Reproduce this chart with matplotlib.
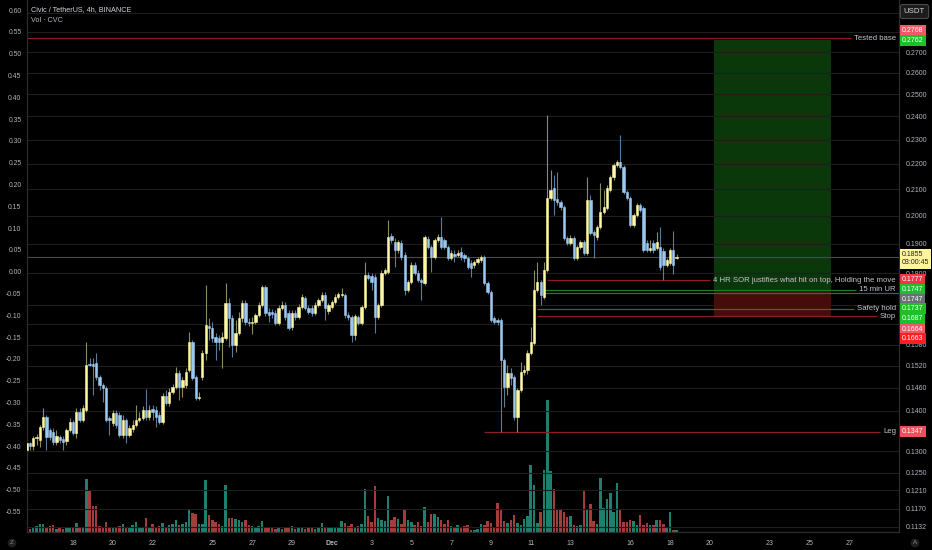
import matplotlib
matplotlib.use('Agg')
import matplotlib.pyplot as plt
import matplotlib.dates as mdates
import matplotlib.transforms as mtrans
from matplotlib.ticker import FixedLocator, FixedFormatter, NullLocator
import pandas as pd
import numpy as np

# ---------------- data ----------------
start_time = '2021-11-15 16:00'
opens = [
 .1302,.1320,.1312,.1332,.1327,.1359,.1384,.1351,.1346,.1322,
 .1334,.1329,.1324,.1351,.1371,.1344,.1397,.1376,.1402,.1525,
 .1524,.1527,.1489,.1467,.1459,.1381,.1369,.1394,.1389,.1339,
 .1376,.1339,.1354,.1364,.1376,.1381,.1402,.1384,.1404,.1402,
 .1389,.1371,.1438,.1419,.1449,.1462,.1500,.1462,.1467,.1508,
 .1587,.1489,.1432,.1489,.1556,.1635,.1629,.1602,.1599,.1587,
 .1599,.1705,.1659,.1579,.1614,.1659,.1705,.1647,.1644,.1647,
 .1668,.1699,.1756,.1677,.1677,.1674,.1644,.1689,.1699,.1674,
 .1632,.1674,.1662,.1692,.1720,.1689,.1689,.1674,.1699,.1714,
 .1730,.1680,.1692,.1708,.1724,.1730,.1730,.1668,.1662,.1608,
 .1662,.1644,.1692,.1794,.1791,.1788,.1662,.1699,.1801,.1804,
 .1927,.1906,.1879,.1903,.1862,.1746,.1772,.1828,.1801,.1778,
 .1768,.1917,.1889,.1855,.1913,.1924,.1913,.1889,.1852,.1865,
 .1862,.1872,.1862,.1852,.1835,.1828,.1838,.1845,.1855,.1768,
 .1740,.1659,.1653,.1653,.1536,.1462,.1500,.1489,.1384,.1454,
 .1503,.1508,.1556,.1584,.1746,.1772,.1724,.1811,.2066,.2105,
 .2063,.2051,.2033,.1920,.1903,.1920,.1852,.1889,.1906,.1869,
 .2059,.1942,.1924,.1960,.2014,.2029,.2097,.2148,.2195,.2207,
 .2187,.2089,.2066,.1967,.2003,.2040,.2029,.1903,.1879,.1903,
 .1886,.1889,.1876,.1828,.1835,.1879,.1850]
highs = [
 .1327,.1322,.1337,.1341,.1364,.1407,.1389,.1356,.1356,.1351,
 .1339,.1337,.1356,.1381,.1376,.1407,.1407,.1414,.1587,.1541,
 .1541,.1556,.1494,.1473,.1465,.1386,.1402,.1402,.1397,.1389,
 .1381,.1364,.1376,.1414,.1397,.1412,.1457,.1414,.1414,.1412,
 .1397,.1446,.1454,.1459,.1470,.1516,.1508,.1489,.1514,.1617,
 .1593,.1494,.1449,.1564,.1762,.1659,.1647,.1614,.1608,.1617,
 .1768,.1720,.1668,.1653,.1677,.1714,.1714,.1659,.1662,.1674,
 .1708,.1762,.1762,.1689,.1686,.1683,.1699,.1711,.1708,.1683,
 .1683,.1683,.1702,.1733,.1727,.1699,.1699,.1708,.1720,.1740,
 .1740,.1705,.1714,.1733,.1740,.1752,.1736,.1677,.1668,.1671,
 .1668,.1699,.1838,.1804,.1801,.1798,.1705,.1811,.1818,.1985,
 .1938,.1920,.1913,.1913,.1872,.1778,.1838,.1838,.1811,.1784,
 .1931,.1927,.1896,.1920,.1935,.1996,.1920,.1896,.1879,.1879,
 .1879,.1889,.1869,.1859,.1845,.1845,.1855,.1862,.1862,.1775,
 .1746,.1665,.1659,.1659,.1541,.1522,.1514,.1494,.1459,.1530,
 .1522,.1564,.1632,.1811,.1838,.1778,.1838,.2406,.2175,.2155,
 .2167,.2059,.2040,.1927,.1931,.1927,.1896,.1913,.1913,.2148,
 .2078,.1949,.1967,.2124,.2097,.2116,.2155,.2203,.2215,.2320,
 .2195,.2097,.2074,.2011,.2048,.2048,.2037,.1913,.1913,.1913,
 .1942,.1960,.1886,.1852,.1886,.1945,.1865]
lows = [
 .1291,.1302,.1302,.1315,.1310,.1351,.1302,.1327,.1315,.1315,
 .1320,.1302,.1315,.1346,.1339,.1332,.1371,.1371,.1397,.1519,
 .1441,.1481,.1454,.1422,.1371,.1339,.1361,.1356,.1334,.1332,
 .1320,.1334,.1346,.1359,.1371,.1376,.1376,.1376,.1376,.1359,
 .1366,.1366,.1414,.1412,.1443,.1457,.1427,.1435,.1459,.1503,
 .1481,.1427,.1427,.1481,.1536,.1593,.1587,.1536,.1564,.1514,
 .1593,.1573,.1544,.1558,.1608,.1647,.1638,.1635,.1611,.1641,
 .1662,.1692,.1665,.1647,.1659,.1638,.1638,.1683,.1653,.1623,
 .1623,.1653,.1656,.1686,.1683,.1671,.1665,.1668,.1692,.1708,
 .1653,.1671,.1686,.1702,.1717,.1724,.1659,.1653,.1587,.1593,
 .1638,.1638,.1686,.1778,.1746,.1614,.1656,.1692,.1794,.1798,
 .1903,.1821,.1869,.1845,.1730,.1740,.1765,.1794,.1772,.1714,
 .1762,.1882,.1804,.1848,.1906,.1882,.1882,.1845,.1845,.1838,
 .1855,.1845,.1838,.1814,.1788,.1818,.1831,.1838,.1762,.1733,
 .1647,.1641,.1638,.1347,.1409,.1441,.1467,.1376,.1347,.1449,
 .1494,.1497,.1550,.1579,.1740,.1699,.1717,.1804,.2059,.2003,
 .2040,.2022,.1913,.1896,.1896,.1845,.1845,.1882,.1862,.1862,
 .1931,.1852,.1913,.1952,.2007,.2022,.2089,.2136,.2187,.2179,
 .2082,.2059,.1960,.1960,.1996,.2014,.1872,.1872,.1872,.1869,
 .1879,.1811,.1778,.1821,.1828,.1798,.1848]
closes = [
 .1320,.1312,.1332,.1334,.1359,.1384,.1334,.1334,.1322,.1337,
 .1327,.1322,.1351,.1371,.1344,.1397,.1376,.1407,.1522,.1522,
 .1520,.1489,.1467,.1459,.1376,.1376,.1394,.1364,.1339,.1376,
 .1339,.1356,.1364,.1376,.1381,.1402,.1384,.1402,.1397,.1384,
 .1371,.1438,.1419,.1449,.1462,.1500,.1462,.1481,.1503,.1587,
 .1486,.1432,.1435,.1556,.1638,.1629,.1599,.1587,.1587,.1602,
 .1705,.1659,.1579,.1614,.1659,.1705,.1647,.1644,.1647,.1668,
 .1699,.1756,.1674,.1668,.1671,.1644,.1689,.1699,.1662,.1629,
 .1674,.1662,.1692,.1724,.1689,.1677,.1674,.1699,.1714,.1730,
 .1689,.1699,.1708,.1724,.1733,.1733,.1668,.1662,.1608,.1665,
 .1644,.1692,.1794,.1784,.1772,.1662,.1699,.1801,.1811,.1924,
 .1913,.1879,.1906,.1855,.1746,.1772,.1828,.1801,.1778,.1772,
 .1924,.1889,.1855,.1913,.1924,.1889,.1889,.1852,.1869,.1859,
 .1869,.1855,.1852,.1821,.1818,.1838,.1848,.1855,.1768,.1740,
 .1653,.1647,.1647,.1536,.1462,.1500,.1486,.1384,.1454,.1503,
 .1508,.1556,.1587,.1746,.1772,.1730,.1811,.2066,.2097,.2059,
 .2051,.2033,.1920,.1903,.1920,.1852,.1889,.1906,.1869,.2059,
 .1938,.1931,.1960,.2014,.2033,.2105,.2148,.2195,.2207,.2187,
 .2089,.2066,.1967,.2003,.2040,.2022,.1879,.1879,.1886,.1879,
 .1906,.1821,.1828,.1845,.1879,.1828,.1855]
volumes = [
 4,3,5,6,8,8,4,6,7,3, 4,3,4,4,4,9,5,4,53,42,
 26,26,6,5,10,5,5,4,6,8, 5,4,7,10,4,5,14,5,8,4,
 6,9,5,7,8,12,7,8,10,22, 19,18,8,8,52,17,12,10,8,6,
 47,14,14,13,12,10,12,7,6,5, 6,11,5,4,4,3,4,3,5,4,
 6,3,4,5,3,4,4,3,4,9, 4,4,4,4,5,11,9,6,8,5,
 6,8,43,16,10,46,14,12,11,36, 12,15,13,8,23,12,10,7,10,6,
 25,10,18,18,15,12,8,12,6,5, 7,4,6,7,2,2,3,8,7,11,
 9,5,29,23,11,9,12,17,9,7, 13,16,67,47,9,20,62,132,61,43,
 23,23,20,15,16,7,6,7,42,23, 28,11,8,54,24,33,39,20,49,22,
 10,10,12,11,7,17,7,9,7,7, 12,12,8,5,20,2,2]

left_scale_ticks = [0.60,0.55,0.50,0.45,0.40,0.35,0.30,0.25,0.20,0.15,0.10,0.05,0.00,
                    -0.05,-0.10,-0.15,-0.20,-0.25,-0.30,-0.35,-0.40,-0.45,-0.50,-0.55]
price_ticks = [0.29,0.28,0.27,0.26,0.25,0.24,0.23,0.22,0.21,0.20,0.19,0.18,0.17,0.164,
               0.158,0.152,0.146,0.140,0.130,0.125,0.121,0.117,0.1132]
# tick labels that the chart hides behind its badges
hidden_price_labels = [0.29, 0.28, 0.17, 0.164]
date_ticks = ['2021-11-18','2021-11-20','2021-11-22','2021-11-25','2021-11-27','2021-11-29',
              '2021-12-01','2021-12-03','2021-12-05','2021-12-07','2021-12-09','2021-12-11',
              '2021-12-13','2021-12-16','2021-12-18','2021-12-20','2021-12-23','2021-12-25','2021-12-27']
date_labels = ['18','20','22','25','27','29','Dec','3','5','7','9','11','13','16','18','20','23','25','27']

# horizontal drawings: price, text, start time, colour
level_prices = [0.2768, 0.1777, 0.1747, 0.1737, 0.1687, 0.1664, 0.1347]
level_texts = ['Tested base', '4 HR SOR justifies what hit on top, Holding the move',
               '15 min UR', '', 'Safety hold', 'Stop', 'Leg']
level_starts = ['2021-11-15 16:00', '2021-12-11 20:00', '2021-12-11 16:00', '2021-12-11 16:00',
                '2021-12-11 08:00', '2021-12-11 08:00', '2021-12-08 16:00']
level_colors = ['#8e1e24', '#8e1e24', '#1f7a22', '#1f7a22', '#1f7a22', '#8e1e24', '#8e1e24']

last_price = 0.1855
countdown = '03:00:45'
pos_start, pos_end = '2021-12-20 05:00', '2021-12-26 02:00'
pos_entry, pos_target, pos_stop = 0.1747, 0.2762, 0.1663

# right-axis price badges: price, background colour, vertical shift in px
badge_prices = [0.2768, 0.2762, 0.1777, 0.1747, 0.1747, 0.1737, 0.1687, 0.1664, 0.1663, 0.1347]
badge_colors = ['#f05a66', '#1fbf2a', '#f23645', '#1fbf2a', '#6b6e78', '#1fbf2a', '#1fbf2a',
                '#ef5866', '#ff1f1f', '#ef4f5a']
badge_shift = [8, -1, 1, 0, -10, -16, -10, -13, -22, 0]

# ---------------- figure ----------------
W, H, DPI = 932, 550, 100
fig = plt.figure(figsize=(W / DPI, H / DPI), dpi=DPI, facecolor='black')
plt.rcParams['font.family'] = ['Liberation Sans', 'DejaVu Sans']

L, R, B, T = 27 / W, 899 / W, 18 / H, 1.0
rect = [L, B, R - L, T - B]
TXT = '#b2b5be'
TICK_FS = 5.0

times = pd.date_range(start_time, periods=len(closes), freq='4h')
t = mdates.date2num(times.to_pydatetime())
day0 = mdates.date2num(pd.Timestamp('2021-11-18').to_pydatetime())
xlim = (day0 - 2.312, day0 + 41.508)

o = np.array(opens); h = np.array(highs); l = np.array(lows); c = np.array(closes)
up = c >= o

# left overlay scale (labels only)
axl = fig.add_axes(rect, zorder=0)
axl.set_facecolor('none')
axl.set_ylim(-0.597, 0.623)
axl.set_xticks([])
axl.yaxis.set_major_locator(FixedLocator(left_scale_ticks))
axl.yaxis.set_major_formatter(FixedFormatter([f'{v:.2f}' for v in left_scale_ticks]))
axl.tick_params(axis='y', length=0, pad=4, labelsize=4.9, labelcolor=TXT)
for s in axl.spines.values():
    s.set_visible(False)

# volume
axv = fig.add_axes(rect, zorder=1)
axv.set_facecolor('none')
axv.set_xlim(*xlim)
axv.set_ylim(0, 532)
axv.bar(t, volumes, width=0.125, color=np.where(up, '#1f7f6f', '#a43c39'), linewidth=0)
axv.axis('off')

# main price axes
ax = fig.add_axes(rect, zorder=2)
ax.set_facecolor('none')
ax.set_yscale('log')
ax.set_xlim(*xlim)
ax.set_ylim(0.1121, 0.2970)
ax.yaxis.tick_right()
ax.yaxis.set_major_locator(FixedLocator(price_ticks))
ax.yaxis.set_major_formatter(FixedFormatter(
    ['' if v in hidden_price_labels else f'{v:.4f}' for v in price_ticks]))
ax.yaxis.set_minor_locator(NullLocator())
ax.tick_params(axis='y', length=0, pad=4.5, labelsize=TICK_FS, labelcolor=TXT)
ax.grid(axis='y', color='#1e1e1e', lw=0.8)
ax.set_xticks(mdates.date2num(pd.to_datetime(date_ticks).to_pydatetime()))
ax.set_xticklabels(date_labels)
ax.tick_params(axis='x', length=0, pad=6, labelsize=TICK_FS, labelcolor=TXT)
for lab in ax.get_xticklabels():
    if lab.get_text() == 'Dec':
        lab.set_fontweight('bold')
ax.spines['top'].set_visible(False)
for s in ['left', 'right', 'bottom']:
    ax.spines[s].set_color('#2c2c2c')
    ax.spines[s].set_linewidth(0.9)

# position tool
ps = mdates.date2num(pd.Timestamp(pos_start).to_pydatetime())
pe = mdates.date2num(pd.Timestamp(pos_end).to_pydatetime())
ax.fill_between([ps, pe], pos_entry, pos_target, color='#0a380b', lw=0, zorder=0.5)
ax.fill_between([ps, pe], pos_stop, pos_entry, color='#480b0b', lw=0, zorder=0.5)

# current price line
ax.axhline(last_price, color='#4a4a4a', lw=0.8, zorder=1)

# candles
wick_col = np.where(up, '#8c8c63', '#5b7d9c')
body_col = np.where(up, '#fff7a3', '#9cc8f0')
ax.vlines(t, l, h, colors=wick_col, lw=0.8, zorder=2)
ax.bar(t, np.abs(c - o), bottom=np.minimum(o, c), width=0.115, color=body_col,
       edgecolor=body_col, linewidth=0.4, zorder=3)

# horizontal drawings with right-aligned text
blend = mtrans.blended_transform_factory(ax.transAxes, ax.transData)
fig.canvas.draw()
renderer = fig.canvas.get_renderer()
x_text = (896 - 27) / 872
for p, txt, st, col in zip(level_prices, level_texts, level_starts, level_colors):
    x0 = mdates.date2num(pd.Timestamp(st).to_pydatetime())
    x1 = xlim[1]
    if txt:
        tt = ax.text(x_text, p, txt, transform=blend, ha='right', va='center',
                     fontsize=5.6, color='#c3c6cc', zorder=6)
        bb = tt.get_window_extent(renderer)
        x1 = ax.transData.inverted().transform((bb.x0 - 3, 0))[0]
    ax.hlines(p, x0, x1, colors=col, lw=0.9, zorder=1.5)

# price badges on the right axis
for p, col, dy in zip(badge_prices, badge_colors, badge_shift):
    ax.annotate(f'{p:.4f}', xy=(1, p), xycoords=blend, xytext=(3, dy),
                textcoords='offset pixels', ha='left', va='center', fontsize=TICK_FS,
                color='white', annotation_clip=False, zorder=10,
                bbox=dict(boxstyle='square,pad=0.3', fc=col, ec='none'))
ax.annotate(f'{last_price:.4f}\n{countdown}', xy=(1, last_price), xycoords=blend,
            xytext=(3, -2), textcoords='offset pixels', ha='left', va='center',
            fontsize=TICK_FS, color='#222222', annotation_clip=False, zorder=10,
            linespacing=1.2,
            bbox=dict(boxstyle='square,pad=0.3', fc='#fff59d', ec='none'))

# header texts
fig.text(31 / W, 1 - 10 / H, 'Civic / TetherUS, 4h, BINANCE', fontsize=5.2,
         color='#d1d4dc', ha='left', va='center')
fig.text(31 / W, 1 - 21 / H, 'Vol · CVC', fontsize=5.2, color='#b2b5be', ha='left', va='center')
fig.text(914.5 / W, 1 - 11.5 / H, 'USDT', fontsize=5.6, color='#d1d4dc', ha='center', va='center',
         bbox=dict(boxstyle='round,pad=0.45,rounding_size=0.3', fc='#1c1c1c', ec='#4a4a4a', lw=0.8))
fig.text(12 / W, 1 - 543 / H, 'Z', fontsize=4.5, color='#8a8a8a', ha='center', va='center',
         bbox=dict(boxstyle='circle,pad=0.3', fc='#1e1e1e', ec='none'))
fig.text(915 / W, 1 - 543 / H, 'A', fontsize=4.5, color='#8a8a8a', ha='center', va='center',
         bbox=dict(boxstyle='circle,pad=0.3', fc='#1e1e1e', ec='none'))

fig.savefig('out.png', dpi=DPI, facecolor='black')
